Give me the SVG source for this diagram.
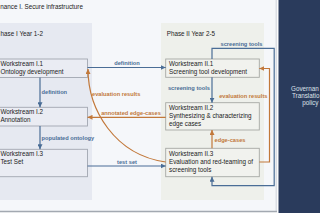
<svg xmlns="http://www.w3.org/2000/svg" width="320" height="213" viewBox="0 0 320 213">
<defs>
<style>
text{font-family:"Liberation Sans",Arial,sans-serif;}
.t{font-size:6.3px;fill:#222;}
.lb{font-size:5.7px;font-weight:bold;fill:#4a6d96;}
.lo{font-size:5.7px;font-weight:bold;fill:#c2783a;}
.wb{fill:#eaecf3;stroke:#a2a7b1;stroke-width:0.9;}
.wg{fill:#f1f2ee;stroke:#a6a8a4;stroke-width:0.9;}
.cb{fill:none;stroke:#4a6d96;stroke-width:1.2;}
.co{fill:none;stroke:#c2783a;stroke-width:1.2;}
.gt{font-size:6.3px;fill:#dde2ea;}
</style>
<marker id="ab" markerUnits="userSpaceOnUse" markerWidth="5" markerHeight="5" refX="5" refY="2.5" orient="auto"><path d="M0,0 L5,2.5 L0,5 z" fill="#4a6d96"/></marker>
<marker id="ao" markerUnits="userSpaceOnUse" markerWidth="5" markerHeight="5" refX="5" refY="2.5" orient="auto"><path d="M0,0 L5,2.5 L0,5 z" fill="#c2783a"/></marker>
</defs>
<rect x="0" y="0" width="320" height="213" fill="#fbfcfd"/>
<g id="frame">
<rect x="-10" y="-10" width="286.2" height="221.5" fill="#f5f7fa"/>
<line x1="276.2" y1="0" x2="276.2" y2="211" stroke="#c3c8d0" stroke-width="0.8"/>
<line x1="0" y1="211.5" x2="277" y2="211.5" stroke="#a3a9b1" stroke-width="1.4"/>
<text class="t" x="0.3" y="8.5">nance I. Secure infrastructure</text>
</g>
<g id="phase1">
<rect x="-11" y="23" width="103" height="177" fill="#e6e9f1"/>
<text class="t" x="0.6" y="35.5">hase I Year 1-2</text>
</g>
<g id="phase2">
<rect x="161" y="23" width="103" height="177" fill="#eef0eb"/>
<text class="t" x="166.7" y="35.5">Phase II Year 2-5</text>
</g>
<g id="governance2">
<rect x="278.5" y="0" width="41.5" height="213" fill="#2a3b5c"/>
<text class="gt" x="291" y="91">Governan</text>
<text class="gt" x="292" y="98.3">Translatio</text>
<text class="gt" x="302.3" y="105">policy</text>
</g>
<g id="ws-i1">
<rect class="wb" x="-6" y="59" width="93.5" height="18.5"/>
<text class="t" x="0.4" y="66">Workstream I.1</text>
<text class="t" x="0.4" y="74">Ontology development</text>
</g>
<g id="ws-i2">
<rect class="wb" x="-6" y="107.3" width="93.5" height="18.7"/>
<text class="t" x="0.4" y="114.3">Workstream I.2</text>
<text class="t" x="0.4" y="122.3">Annotation</text>
</g>
<g id="ws-i3">
<rect class="wb" x="-6" y="149.3" width="93.5" height="27.4"/>
<text class="t" x="0.4" y="156.3">Workstream I.3</text>
<text class="t" x="0.4" y="164.3">Test Set</text>
</g>
<g id="ws-ii1">
<rect class="wg" x="165.7" y="59" width="93.6" height="18.3"/>
<text class="t" x="169" y="66">Workstream II.1</text>
<text class="t" x="169" y="74">Screening tool development</text>
</g>
<g id="ws-ii2">
<rect class="wg" x="165.7" y="102.7" width="93.6" height="27.3"/>
<text class="t" x="169" y="109.5">Workstream II.2</text>
<text class="t" x="169" y="117.5">Synthesizing &amp; characterizing</text>
<text class="t" x="169" y="125.5">edge cases</text>
</g>
<g id="ws-ii3">
<rect class="wg" x="165.7" y="148.3" width="93.6" height="28.4"/>
<text class="t" x="169" y="155.5">Workstream II.3</text>
<text class="t" x="169" y="163.5">Evaluation and red-teaming of</text>
<text class="t" x="169" y="171.5">screening tools</text>
</g>
<g id="connectors">
<path class="cb" d="M87.5,67.5 H165.7" marker-end="url(#ab)"/>
<text class="lb" x="127" y="65" text-anchor="middle">definition</text>
<path class="cb" d="M40,77.5 V107.3" marker-end="url(#ab)"/>
<text class="lb" x="41.5" y="94">definition</text>
<path class="cb" d="M40,126 V149.3" marker-end="url(#ab)"/>
<text class="lb" x="41.5" y="139.5">populated ontology</text>
<path class="cb" d="M87.5,166 H165.7" marker-end="url(#ab)"/>
<text class="lb" x="127" y="163.5" text-anchor="middle">test set</text>
<path class="co" d="M165.7,117.3 H87.5" marker-end="url(#ao)"/>
<text class="lo" x="131" y="115" text-anchor="middle">annotated edge-cases</text>
<path class="co" d="M165.7,162 C115,155 88,110 88,69" marker-end="url(#ao)"/>
<text class="lo" x="92" y="95.5">evaluation results</text>
<path class="co" d="M259.3,162 H269.5 V68.5 H259.3" marker-end="url(#ao)"/>
<text class="lo" x="267.5" y="97.5" text-anchor="end">evaluation results</text>
<path class="cb" d="M212,59 V48.3 H274.2 V185.7 H212 V176.7" marker-end="url(#ab)"/>
<text class="lb" x="241.5" y="46" text-anchor="middle">screening tools</text>
<path class="cb" d="M212,77.3 V102.7" marker-end="url(#ab)"/>
<text class="lb" x="210" y="90" text-anchor="end">screening tools</text>
<path class="co" d="M212,148.3 V130" marker-end="url(#ao)"/>
<text class="lo" x="214.5" y="142.3">edge-cases</text>
</g>
</svg>
